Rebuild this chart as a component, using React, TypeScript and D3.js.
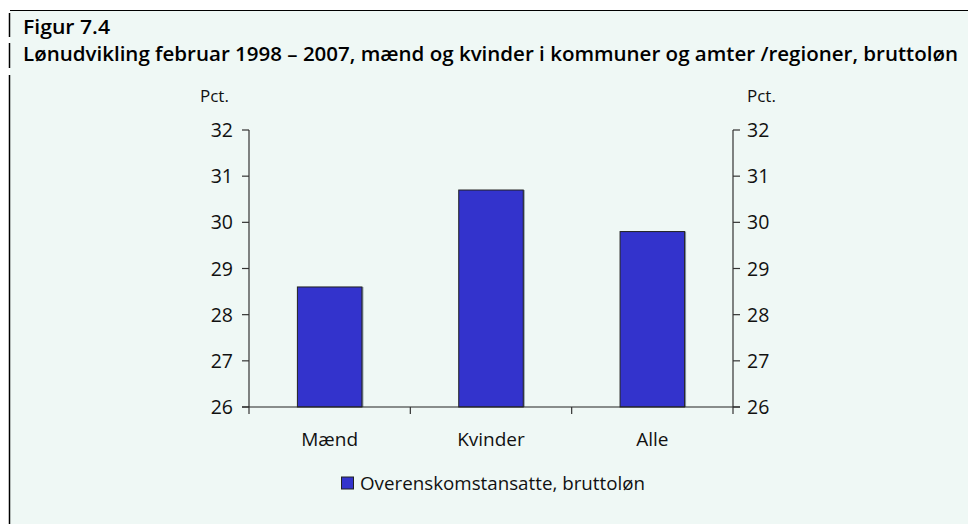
import React from 'react';
import * as d3 from 'd3';

const categories = ['Mænd', 'Kvinder', 'Alle'];
const values = [28.6, 30.7, 29.8];
const yTicks = [26, 27, 28, 29, 30, 31, 32];
const seriesName = 'Overenskomstansatte, bruttoløn';
const figLabel = 'Figur 7.4';
const title = 'Lønudvikling februar 1998 – 2007, mænd og kvinder i kommuner og amter /regioner, bruttoløn';

const W = 968;
const H = 524;
const font = '"Open Sans", "Noto Sans", sans-serif';
const bg = '#eff8f5';
const barFill = '#3333cc';

const App = () => {
  const left = 249;
  const right = 733;
  const top = 130;
  const bottom = 407;

  const x = d3.scaleBand<string>().domain(categories).range([left, right]).paddingInner(0.6).paddingOuter(0.3);
  const xb = d3.scaleBand<string>().domain(categories).range([left, right]);
  const y = d3.scaleLinear().domain([26, 32]).range([bottom, top]);

  return (
    <svg width={W} height={H} style={{ position: 'absolute', left: 0, top: 0 }} fontFamily={font}>
      <rect x={0} y={0} width={W} height={H} fill="#fff" />
      <rect x={10} y={10} width={W - 10} height={H - 10} fill={bg} />
      <line x1={10} x2={W} y1={10.5} y2={10.5} stroke="#000" strokeWidth={1.2} />
      <line x1={9.5} x2={9.5} y1={13} y2={37} stroke="#000" strokeWidth={1.5} />
      <line x1={9.5} x2={9.5} y1={43} y2={68} stroke="#000" strokeWidth={1.5} />
      <line x1={9.5} x2={9.5} y1={75} y2={H} stroke="#000" strokeWidth={1.5} />

      <text x={23} y={34} fontSize={19} fontWeight={600} fill="#000" textLength={87} lengthAdjust="spacingAndGlyphs">{figLabel}</text>
      <text x={23} y={61} fontSize={19} fontWeight={600} fill="#000" textLength={935} lengthAdjust="spacingAndGlyphs">{title}</text>

      <text x={200} y={102} fontSize={17} fill="#111">Pct.</text>
      <text x={747} y={102} fontSize={17} fill="#111">Pct.</text>

      {categories.map((c, i) => (
        <g key={c}>
          <rect x={x(c)! + 1.5} y={y(values[i])} width={x.bandwidth()} height={bottom - y(values[i])} fill="#8a9aa6" />
          <rect x={x(c)!} y={y(values[i])} width={x.bandwidth()} height={bottom - y(values[i])} fill={barFill} stroke="#222" strokeWidth={1} />
        </g>
      ))}

      {/* left axis */}
      <line x1={left} x2={left} y1={top} y2={bottom} stroke="#333" strokeWidth={1.2} />
      {yTicks.map(t => (
        <g key={'l' + t}>
          <line x1={left - 7} x2={left} y1={y(t)} y2={y(t)} stroke="#333" strokeWidth={1.2} />
          <text x={left - 16} y={y(t)} dy="0.36em" fontSize={19.5} textAnchor="end" fill="#111">{t}</text>
        </g>
      ))}

      {/* right axis */}
      <line x1={right} x2={right} y1={top} y2={bottom} stroke="#333" strokeWidth={1.2} />
      {yTicks.map(t => (
        <g key={'r' + t}>
          <line x1={right} x2={right + 7} y1={y(t)} y2={y(t)} stroke="#333" strokeWidth={1.2} />
          <text x={right + 14} y={y(t)} dy="0.36em" fontSize={19.5} fill="#111">{t}</text>
        </g>
      ))}

      {/* x axis */}
      <line x1={left - 7} x2={right + 7} y1={bottom} y2={bottom} stroke="#222" strokeWidth={1.2} />
      {[...categories.map(c => xb(c)!), right].map((px, i) => (
        <line key={'xt' + i} x1={px} x2={px} y1={bottom} y2={bottom + 7} stroke="#333" strokeWidth={1.2} />
      ))}
      {categories.map(c => (
        <text key={'xl' + c} x={xb(c)! + xb.bandwidth() / 2} y={446} fontSize={19} textAnchor="middle" fill="#111">{c}</text>
      ))}

      {/* legend */}
      <rect x={341.5} y={477} width={12} height={12} fill={barFill} stroke="#222" strokeWidth={1} />
      <text x={360} y={490} fontSize={19} fill="#111" textLength={285} lengthAdjust="spacingAndGlyphs">{seriesName}</text>
    </svg>
  );
};

export default App;
